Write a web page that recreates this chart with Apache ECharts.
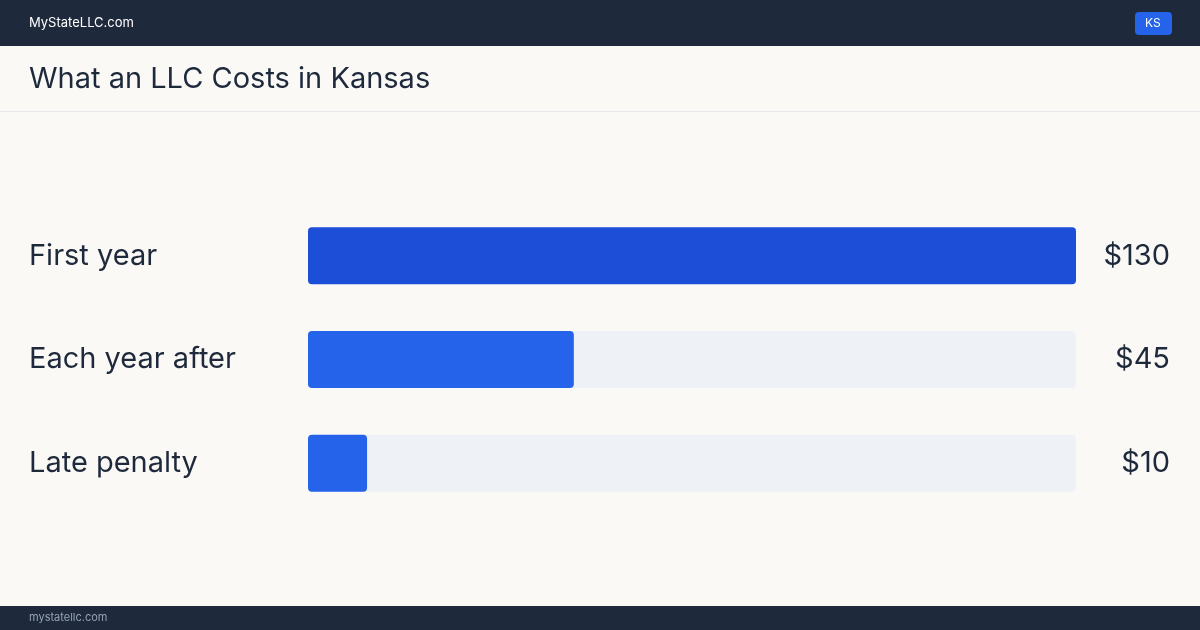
<!DOCTYPE html>
<html><head><meta charset="utf-8">
<script src="https://cdn.jsdelivr.net/npm/echarts@6/dist/echarts.min.js"></script>
<style>html,body{margin:0;padding:0;background:#faf9f6}#c{width:1200px;height:630px}</style>
</head><body><div id="c"></div>
<script>
const categories = ["First year", "Each year after", "Late penalty"];
const values = [130, 45, 10];
const valueLabels = ["$130", "$45", "$10"];
const barColors = ["#1d4ed8", "#2563eb", "#2563eb"];
const F = "Inter, 'Noto Sans', sans-serif";
const chart = echarts.init(document.getElementById('c'));
chart.setOption({
  backgroundColor: '#faf9f6',
  animation: false,
  textStyle: {fontFamily: F},
  grid: {left: 308, right: 124, top: 204, bottom: 115},
  xAxis: {type: 'value', min: 0, max: 130, show: false},
  yAxis: [
    {type: 'category', data: categories, inverse: true, axisLine: {show: false}, axisTick: {show: false},
     axisLabel: {align: 'left', margin: 279, fontSize: 29, color: '#1e293b', fontFamily: F, padding: [4, 0, 0, 0]}},
    {type: 'category', data: valueLabels, inverse: true, position: 'right', axisLine: {show: false}, axisTick: {show: false},
     axisLabel: {align: 'right', margin: 94, fontSize: 29, color: '#1e293b', fontFamily: F, padding: [4, 0, 0, 0]}}
  ],
  series: [{
    type: 'bar', barWidth: 57,
    data: values.map((v, i) => ({value: v, itemStyle: {color: barColors[i]}})),
    itemStyle: {borderRadius: 4},
    showBackground: true,
    backgroundStyle: {color: '#eef2f7', borderRadius: 4}
  }],
  graphic: [
    {type: 'rect', left: 0, top: 0, shape: {width: 1200, height: 46}, style: {fill: '#1e293b'}},
    {type: 'text', left: 29, top: 17, style: {text: 'MyStateLLC.com', fill: '#ffffff', fontSize: 13, fontFamily: F}},
    {type: 'rect', left: 1135, top: 12, shape: {width: 37, height: 23, r: 4}, style: {fill: '#2563eb'}},
    {type: 'text', left: 1145, top: 17, style: {text: 'KS', fill: '#ffffff', fontSize: 12, fontFamily: F}},
    {type: 'text', left: 29, top: 65, style: {text: 'What an LLC Costs in Kansas', fill: '#1e293b', fontSize: 29, fontFamily: F}},
    {type: 'rect', left: 0, top: 111, shape: {width: 1200, height: 1}, style: {fill: '#e5e7eb'}},
    {type: 'rect', left: 0, top: 606, shape: {width: 1200, height: 24}, style: {fill: '#1e293b'}},
    {type: 'text', left: 29, top: 612, style: {text: 'mystatellc.com', fill: '#94a3b8', fontSize: 11, fontFamily: F}}
  ]
});
</script></body></html>
